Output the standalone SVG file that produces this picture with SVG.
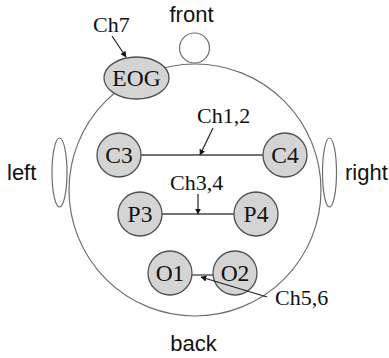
<svg xmlns="http://www.w3.org/2000/svg" width="389" height="358" viewBox="0 0 389 358">
  <defs>
    <style>
      .outline { fill: none; stroke: #6e6e6e; stroke-width: 1.2; }
      .electrode { fill: #d4d4d4; stroke: #505050; stroke-width: 1.3; }
      .ename { font-family: "Liberation Serif", "Times New Roman", serif; font-size: 23.5px; fill: #111; text-anchor: middle; }
      .chan { font-family: "Liberation Serif", "Times New Roman", serif; font-size: 22px; fill: #111; }
      .side { font-family: "Liberation Sans", Arial, sans-serif; font-size: 22px; fill: #111; }
      .wire { stroke: #444; stroke-width: 1.3; fill: none; }
      .pointer { stroke: #222; stroke-width: 1.2; fill: none; marker-end: url(#tip); }
    </style>
    <marker id="tip" viewBox="0 0 10 10" refX="9" refY="5" markerWidth="6" markerHeight="6" markerUnits="userSpaceOnUse" orient="auto">
      <path d="M0,0 L10,5 L0,10 z" fill="#111"/>
    </marker>
  </defs>

  <!-- head outline, nose and ears -->
  <g id="head">
    <circle class="outline" cx="195" cy="190" r="126"/>
    <circle class="outline" cx="194.5" cy="48" r="15"/>
    <ellipse class="outline" cx="59.5" cy="172.5" rx="7.5" ry="34.5"/>
    <ellipse class="outline" cx="329.5" cy="172.5" rx="7" ry="34.5"/>
  </g>

  <!-- orientation labels -->
  <g id="labels">
    <text class="side" x="191.5" y="22" text-anchor="middle">front</text>
    <text class="side" x="193.5" y="351" text-anchor="middle">back</text>
    <text class="side" x="7" y="180">left</text>
    <text class="side" x="345" y="180">right</text>
  </g>

  <!-- bipolar wires between electrode pairs -->
  <g id="connectors">
    <line class="wire" x1="141" y1="155" x2="263" y2="155"/>
    <line class="wire" x1="162" y1="214" x2="234" y2="214"/>
    <line class="wire" x1="192" y1="275" x2="213" y2="275"/>
  </g>

  <g id="EOG">
    <ellipse class="electrode" cx="136.5" cy="78" rx="32.5" ry="21"/>
    <text class="ename" x="136.5" y="86">EOG</text>
  </g>
  <g id="C3">
    <circle class="electrode" cx="119" cy="155" r="22"/>
    <text class="ename" x="119" y="163">C3</text>
  </g>
  <g id="C4">
    <circle class="electrode" cx="285" cy="155" r="22"/>
    <text class="ename" x="285" y="163">C4</text>
  </g>
  <g id="P3">
    <circle class="electrode" cx="140" cy="214" r="22"/>
    <text class="ename" x="140" y="222">P3</text>
  </g>
  <g id="P4">
    <circle class="electrode" cx="256" cy="214" r="22"/>
    <text class="ename" x="256" y="222">P4</text>
  </g>
  <g id="O1">
    <circle class="electrode" cx="170" cy="273" r="22"/>
    <text class="ename" x="170" y="281">O1</text>
  </g>
  <g id="O2">
    <circle class="electrode" cx="235" cy="273" r="22"/>
    <text class="ename" x="235" y="281">O2</text>
  </g>

  <!-- channel callouts -->
  <g id="channels">
    <text class="chan" x="93" y="32">Ch7</text>
    <line class="pointer" x1="112" y1="36" x2="126" y2="57"/>
    <text class="chan" x="197" y="123">Ch1,2</text>
    <line class="pointer" x1="213" y1="128" x2="200" y2="155"/>
    <text class="chan" x="170" y="190">Ch3,4</text>
    <line class="pointer" x1="198" y1="194" x2="198" y2="214"/>
    <text class="chan" x="275" y="305">Ch5,6</text>
    <line class="pointer" x1="267" y1="297" x2="201" y2="277"/>
  </g>
</svg>
